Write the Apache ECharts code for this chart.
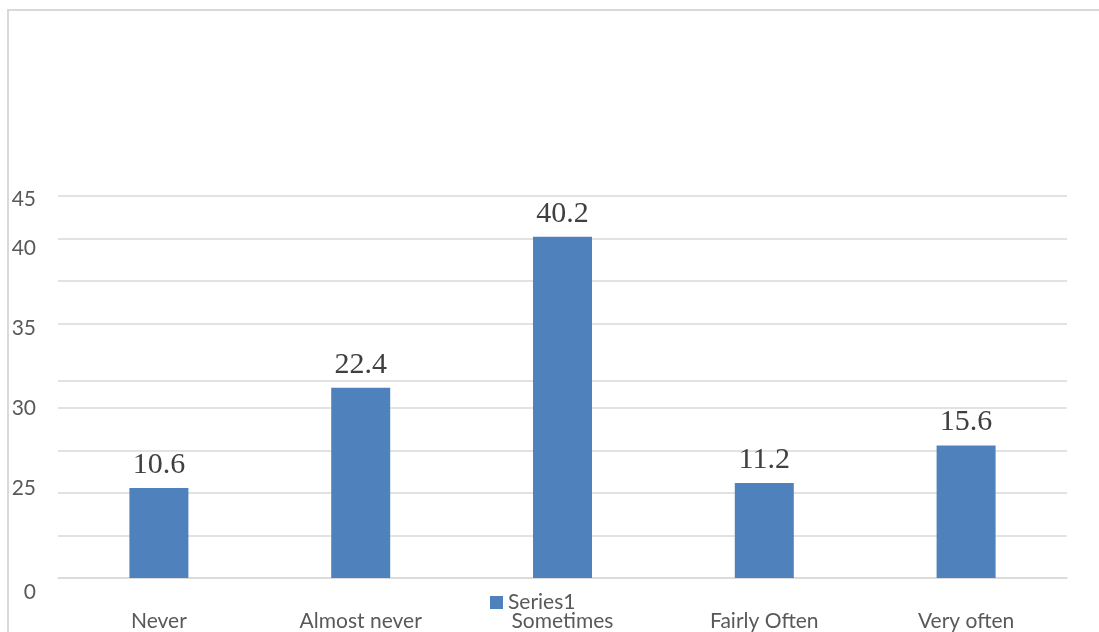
<!DOCTYPE html>
<html>
<head>
<meta charset="utf-8">
<script src="https://cdn.jsdelivr.net/npm/echarts@6/dist/echarts.min.js"></script>
<style>
  html, body { margin: 0; padding: 0; background: #ffffff; }
  #frame { position: absolute; left: 7px; top: 9px; width: 1200px; height: 700px;
           border-left: 2px solid #d9d9d9; border-top: 2px solid #d9d9d9; }
  #chart { position: absolute; left: 0; top: 0; width: 1099px; height: 632px; }
</style>
</head>
<body>
<div id="frame"></div>
<div id="chart"></div>
<script>
// ---- data ----
const categories = ['Never', 'Almost never', 'Sometimes', 'Fairly Often', 'Very often'];
const seriesName = 'Series1';
const values = [10.6, 22.4, 40.2, 11.2, 15.6];
// gridline values as they appear in the reference
const gridValues = [0, 5, 10, 15, 20, 23.2, 30, 35, 40, 45];
// printed tick labels and the gridline each one sits beside
const yLabelValues = [0, 10, 20, 30, 40, 45];
const yTickLabels = ['0', '25', '30', '35', '40', '45'];

const labelStyleKeys = ['s0', 's25', 's30', 's35', 's40', 's45'];
const FONT = 'Lato';
const FS = 21;
const GREY = '#595959';

const chart = echarts.init(document.getElementById('chart'), null, { renderer: 'canvas' });
chart.setOption({
  backgroundColor: 'transparent',
  animation: false,
  grid: { left: 58, right: 32, top: 196, bottom: 54, containLabel: false },
  legend: {
    data: [seriesName],
    left: 485,
    top: 587,
    icon: 'rect',
    itemWidth: 13,
    itemHeight: 13,
    itemGap: 10,
    textStyle: { fontFamily: FONT, fontSize: FS, color: GREY }
  },
  xAxis: {
    type: 'category',
    data: categories,
    axisLine: { show: true, lineStyle: { color: '#d9d9d9', width: 1.5 } },
    axisTick: { show: false },
    axisLabel: { interval: 0, margin: 33, fontFamily: FONT, fontSize: FS, color: GREY },
    splitLine: { show: false }
  },
  yAxis: {
    type: 'value',
    min: 0,
    max: 45,
    axisLine: { show: false },
    axisTick: { show: false, customValues: gridValues },
    splitLine: { show: true, lineStyle: { color: '#d9d9d9', width: 1.5 } },
    axisLabel: {
      customValues: yLabelValues,
      margin: 22,
      fontFamily: FONT,
      fontSize: FS,
      color: GREY,
      formatter: function (v) {
        const i = yLabelValues.indexOf(v);
        if (i < 0) return '';
        return '{' + labelStyleKeys[i] + '|' + yTickLabels[i] + '}';
      },
      rich: {
        s0:  { fontFamily: FONT, fontSize: FS, color: GREY, padding: [28, 0, 0, 0] },
        s25: { fontFamily: FONT, fontSize: FS, color: GREY, padding: [0, 0, 10, 0] },
        s30: { fontFamily: FONT, fontSize: FS, color: GREY },
        s35: { fontFamily: FONT, fontSize: FS, color: GREY, padding: [10, 0, 0, 0] },
        s40: { fontFamily: FONT, fontSize: FS, color: GREY, padding: [20, 0, 0, 0] },
        s45: { fontFamily: FONT, fontSize: FS, color: GREY, padding: [6, 0, 0, 0] }
      }
    }
  },
  series: [{
    name: seriesName,
    type: 'bar',
    data: values,
    barWidth: 59,
    itemStyle: { color: '#4f81bd' },
    label: {
      show: true,
      position: 'top',
      distance: 8,
      fontFamily: 'Liberation Serif',
      fontSize: 30,
      color: '#404040'
    }
  }]
});
</script>
</body>
</html>
